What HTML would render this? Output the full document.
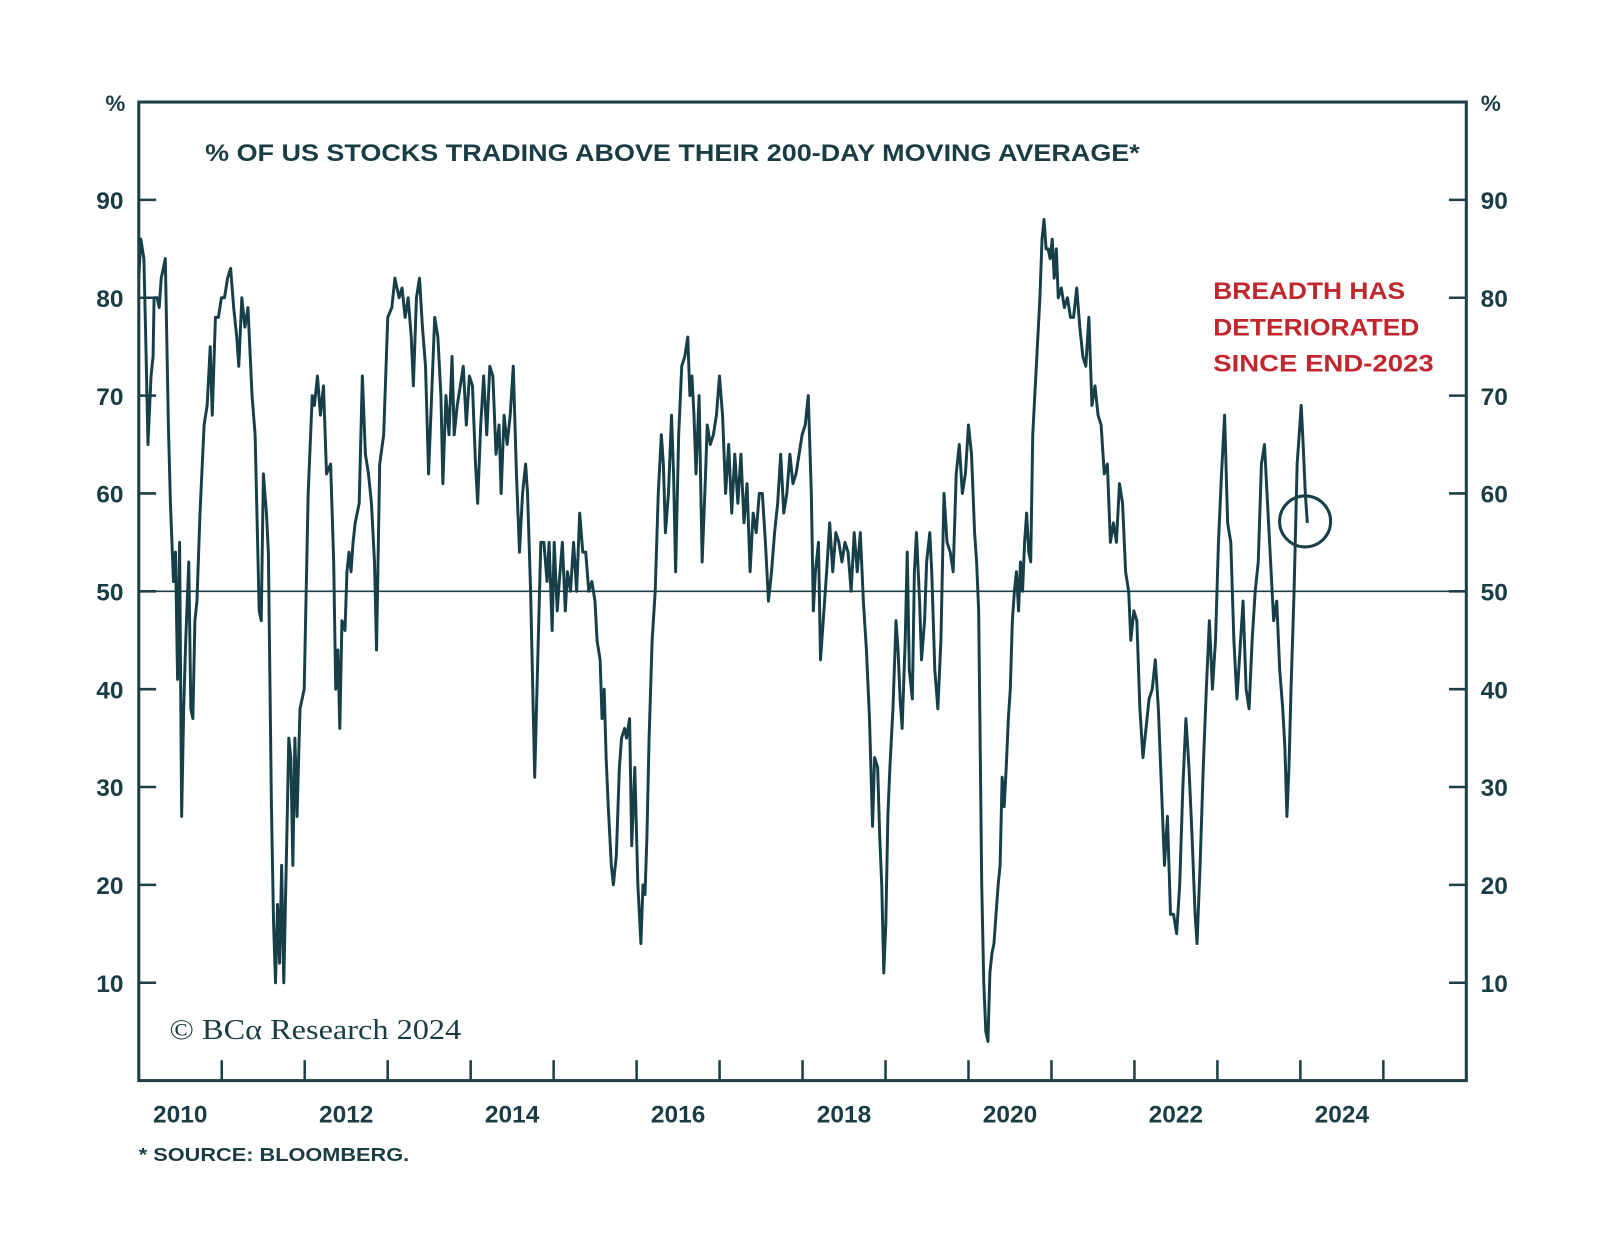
<!DOCTYPE html>
<html><head><meta charset="utf-8"><style>
html,body{margin:0;padding:0;background:#fff;}
svg{display:block;}
text{font-family:"Liberation Sans",sans-serif;}
</style></head><body>
<svg id="chart" width="1600" height="1251" viewBox="0 0 1568 1226" xmlns="http://www.w3.org/2000/svg">
<rect x="0" y="0" width="1568" height="1226" fill="#fff"/>
<g id="axes"></g>
<path id="series" fill="none" stroke="#163f48" stroke-width="2.9" stroke-linejoin="round"/>
<text x="201" y="158" font-size="24" font-weight="bold" fill="#1a3d45" textLength="916" lengthAdjust="spacingAndGlyphs">% OF US STOCKS TRADING ABOVE THEIR 200-DAY MOVING AVERAGE*</text>
<g font-size="24" font-weight="bold" fill="#c0272d">
<text x="1189" y="293" textLength="188" lengthAdjust="spacingAndGlyphs">BREADTH HAS</text>
<text x="1189" y="329" textLength="202" lengthAdjust="spacingAndGlyphs">DETERIORATED</text>
<text x="1189" y="364" textLength="216" lengthAdjust="spacingAndGlyphs">SINCE END-2023</text>
</g>
<ellipse id="circ" cx="1279" cy="511" rx="25" ry="25" fill="none" stroke="#163f48" stroke-width="3"/>
<text x="166" y="1018" font-size="28" fill="#1a3d45" style="font-family:'Liberation Serif',serif" textLength="286" lengthAdjust="spacingAndGlyphs">© BCα Research 2024</text>
<text x="136" y="1138" font-size="18" font-weight="bold" fill="#1a3d45" textLength="265" lengthAdjust="spacingAndGlyphs">* SOURCE: BLOOMBERG.</text>
</svg>
<script>
const yearsSince2010=[0,.025,.062,.086,.111,.148,.172,.185,.221,.246,.271,.320,.357,.381,.418,.443,.467,.492,.517,.541,.566,.603,.627,.652,.677,.701,.738,.787,.824,.861,.886,.923,.959,.996,1.033,1.070,1.107,1.144,1.181,1.205,1.242,1.279,1.316,1.365,1.402,1.451,1.476,1.501,1.538,1.562,1.599,1.624,1.648,1.673,1.697,1.722,1.747,1.784,1.808,1.833,1.857,1.882,1.907,1.943,1.993,2.042,2.091,2.116,2.153,2.189,2.226,2.263,2.312,2.349,2.374,2.399,2.423,2.448,2.485,2.509,2.534,2.558,2.583,2.608,2.657,2.694,2.731,2.768,2.804,2.841,2.866,2.903,2.952,3.001,3.050,3.087,3.137,3.173,3.210,3.247,3.284,3.309,3.346,3.383,3.419,3.456,3.493,3.530,3.567,3.604,3.641,3.665,3.702,3.739,3.776,3.801,3.838,3.875,3.911,3.948,3.985,4.022,4.059,4.084,4.121,4.157,4.194,4.231,4.268,4.305,4.342,4.367,4.403,4.440,4.477,4.514,4.551,4.588,4.625,4.662,4.686,4.723,4.748,4.772,4.809,4.846,4.883,4.920,4.945,4.982,5.006,5.043,5.068,5.105,5.141,5.166,5.203,5.240,5.277,5.314,5.351,5.387,5.424,5.461,5.498,5.523,5.560,5.584,5.609,5.633,5.658,5.695,5.720,5.756,5.793,5.818,5.855,5.879,5.916,5.941,5.978,6.015,6.052,6.076,6.101,6.125,6.150,6.187,6.224,6.261,6.298,6.322,6.347,6.384,6.421,6.445,6.470,6.507,6.544,6.581,6.617,6.642,6.667,6.691,6.716,6.753,6.790,6.827,6.851,6.888,6.925,6.962,6.999,7.036,7.073,7.109,7.146,7.183,7.220,7.257,7.294,7.331,7.368,7.405,7.442,7.478,7.515,7.552,7.589,7.626,7.663,7.700,7.737,7.774,7.811,7.847,7.884,7.921,7.958,7.995,8.032,8.069,8.106,8.130,8.155,8.192,8.216,8.241,8.266,8.290,8.327,8.364,8.401,8.438,8.475,8.512,8.549,8.585,8.622,8.659,8.696,8.733,8.770,8.807,8.844,8.868,8.905,8.930,8.954,8.979,9.004,9.028,9.053,9.090,9.127,9.151,9.176,9.200,9.237,9.262,9.287,9.323,9.348,9.373,9.410,9.434,9.471,9.496,9.533,9.557,9.594,9.631,9.668,9.705,9.742,9.779,9.815,9.852,9.889,9.926,9.963,10.000,10.037,10.074,10.098,10.123,10.160,10.184,10.209,10.234,10.258,10.283,10.307,10.332,10.357,10.381,10.406,10.430,10.455,10.480,10.504,10.529,10.553,10.578,10.603,10.627,10.652,10.676,10.701,10.726,10.750,10.775,10.799,10.824,10.861,10.886,10.910,10.935,10.959,10.984,11.009,11.033,11.058,11.082,11.119,11.156,11.193,11.230,11.267,11.304,11.341,11.378,11.414,11.451,11.488,11.525,11.562,11.599,11.636,11.673,11.710,11.747,11.783,11.820,11.857,11.894,11.931,11.956,11.993,12.029,12.066,12.103,12.140,12.177,12.214,12.251,12.288,12.325,12.362,12.398,12.435,12.472,12.509,12.546,12.583,12.620,12.657,12.694,12.731,12.755,12.792,12.829,12.866,12.903,12.940,12.977,13.013,13.050,13.087,13.124,13.161,13.198,13.235,13.272,13.309,13.346,13.382,13.419,13.456,13.493,13.530,13.567,13.604,13.641,13.678,13.715,13.751,13.788,13.813,13.838,13.862,13.887,13.924,13.961,13.985,14.010,14.034,14.059,14.084];
const pctAbove=[82,86,84,75,65,72,74,80,80,79,82,84,67,59,51,54,41,55,27,38,45,53,38,37,47,49,58,67,69,75,68,78,78,80,80,82,83,79,76,73,80,77,79,70,66,48,47,62,58,54,28,16,10,18,12,22,10,25,35,33,22,35,27,38,40,60,70,69,72,68,71,62,63,53,40,44,36,47,46,52,54,52,55,57,59,72,64,62,59,53,44,63,66,78,79,82,80,81,78,80,76,71,80,82,77,73,62,70,78,76,70,61,70,66,74,66,69,71,73,67,72,71,63,59,67,72,66,73,72,64,67,60,68,65,68,73,62,54,60,63,60,50,40,31,43,55,55,51,55,46,55,48,51,55,48,52,50,55,50,58,54,54,50,51,49,45,43,37,40,33,28,22,20,23,32,35,36,35,37,24,32,20,14,20,19,25,35,45,50,60,66,63,56,60,68,62,52,66,73,74,76,70,72,68,62,70,53,61,67,65,66,68,72,68,60,65,58,64,59,64,57,61,52,58,56,60,60,55,49,52,56,59,64,58,60,64,61,62,64,66,67,70,60,48,52,55,43,46,49,52,57,52,56,55,53,55,54,50,56,52,56,49,44,37,26,33,32,25,20,11,16,27,32,38,47,44,39,36,45,54,42,39,52,56,49,43,47,53,56,52,42,38,45,60,55,54,52,62,65,60,62,67,64,56,53,48,20,10,5,4,11,13,14,17,20,22,31,28,32,37,40,47,50,52,48,53,50,55,58,54,53,66,70,74,80,86,88,85,85,84,86,82,85,80,81,79,80,78,78,81,77,74,73,78,69,71,68,67,62,63,55,57,55,61,59,52,50,45,48,47,38,33,36,39,40,43,38,30,22,27,17,17,15,20,30,37,32,25,17,14,22,32,40,47,40,45,55,62,68,57,55,45,39,44,49,40,38,45,50,53,63,65,59,53,47,49,42,38,34,27,32,40,50,63,66,69,65,60,57];
const yTicks=[10,20,30,40,50,60,70,80,90];
const yearLabels=[2010,2012,2014,2016,2018,2020,2022,2024];
const X0=136,X1=1437,Y0=1059,Y1=100;
const xScale=t=>X0+(t-2010)/16*(X1-X0);
const yScale=v=>Y0-v/100*(Y0-Y1);
const NS="http://www.w3.org/2000/svg";
const ax=document.getElementById('axes');
function mk(tag,attrs,parent){const e=document.createElementNS(NS,tag);for(const k in attrs)e.setAttribute(k,attrs[k]);(parent||ax).appendChild(e);return e;}
const C="#1d3f47";
let frame=mk('rect',{x:X0,y:Y1,width:X1-X0,height:Y0-Y1,fill:'none',stroke:C,'stroke-width':3});


let ref=mk('line',{x1:X0,x2:X1,y1:yScale(50),y2:yScale(50),stroke:C,'stroke-width':1.6});


yTicks.forEach(v=>{
  const y=yScale(v);
  mk('line',{x1:X0,x2:X0+17,y1:y,y2:y,stroke:C,'stroke-width':2.5});
  mk('line',{x1:X1-17,x2:X1,y1:y,y2:y,stroke:C,'stroke-width':2.5});
  let l=mk('text',{x:121,y:y+9,'text-anchor':'end','font-size':24,'font-weight':'bold',fill:'#1a3d45'});l.textContent=v;
  
  
  let r=mk('text',{x:1451,y:y+9,'font-size':24,'font-weight':'bold',fill:'#1a3d45'});r.textContent=v;
  
  
});
let pl=mk('text',{x:113,y:109,'text-anchor':'middle','font-size':22,'font-weight':'bold',fill:'#1a3d45'});pl.textContent='%';


let pr=mk('text',{x:1461,y:109,'text-anchor':'middle','font-size':22,'font-weight':'bold',fill:'#1a3d45'});pr.textContent='%';


for(let yr=2011;yr<=2025;yr++){const x=xScale(yr);mk('line',{x1:x,x2:x,y1:Y0,y2:Y0-20,stroke:C,'stroke-width':2.5});}
yearLabels.forEach(yr=>{
  let t=mk('text',{x:xScale(yr+0.5),y:1100,'text-anchor':'middle','font-size':24,'font-weight':'bold',fill:'#1a3d45'});t.textContent=yr;
  
  
});
let d='';
pctAbove.forEach((v,i)=>{d+=(i?'L':'M')+xScale(2010+yearsSince2010[i]).toFixed(1)+' '+yScale(v).toFixed(1);});
document.getElementById('series').setAttribute('d',d);
</script>
</body></html>
